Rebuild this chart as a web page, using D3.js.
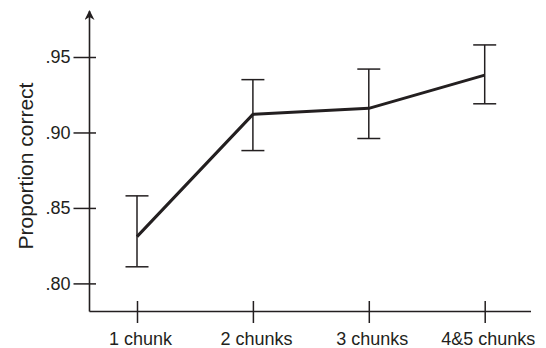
<!DOCTYPE html>
<html>
<head>
<meta charset="utf-8">
<script src="https://cdn.jsdelivr.net/npm/d3@7"></script>
<style>
  body { margin: 0; background: #fff; }
  svg text { font-family: "Liberation Sans", Arial, Helvetica, sans-serif; fill: #231f20; }
</style>
</head>
<body>
<div class="chartContainer"></div>
<script>
// chart values
var categories = ["1 chunk", "2 chunks", "3 chunks", "4&5 chunks"];
var means = [0.831, 0.912, 0.916, 0.938];
var upper = [0.858, 0.935, 0.942, 0.958];
var lower = [0.811, 0.888, 0.896, 0.919];
var yTicks = [0.80, 0.85, 0.90, 0.95];

window.onload = drawChart();

function drawChart(){
    var width = 546,
        height = 348;
    var ink = "#231f20";

    var svg = d3.select("div.chartContainer")
        .append("svg")
        .attr("width", width)
        .attr("height", height);

    //axis origin
    var x0 = 89.5, yBase = 311.5;

    var x = d3.scalePoint()
        .domain(categories)
        .range([137, 484.7]);

    var y = d3.scaleLinear()
        .domain([0.80, 0.95])
        .range([283.4, 57]);

    //arrow head
    svg.append("defs").append("marker")
        .attr("id", "arrow")
        .attr("viewBox", "0 0 10 10")
        .attr("refX", 9)
        .attr("refY", 5)
        .attr("markerWidth", 10)
        .attr("markerHeight", 10)
        .attr("markerUnits", "userSpaceOnUse")
        .attr("orient", "auto")
        .append("path")
        .attr("d", "M0,0 L10,5 L0,10 L3,5 Z")
        .attr("fill", ink);

    //y axis
    var yAxis = svg.append("g")
        .attr("transform", "translate(" + x0 + ",0)")
        .call(d3.axisLeft(y)
            .tickValues(yTicks)
            .tickSize(16)
            .tickPadding(3)
            .tickFormat(function(d){ return d3.format(".2f")(d).replace(/^0/, ""); }));
    yAxis.select(".domain").remove();
    yAxis.selectAll(".tick line")
        .attr("x1", 6.5)
        .attr("stroke", ink)
        .attr("stroke-width", 1.5);
    yAxis.selectAll(".tick text")
        .attr("font-size", 18)
        .style("font-family", "'Liberation Sans', Arial, sans-serif")
        .attr("fill", ink);

    svg.append("line")
        .attr("x1", x0).attr("x2", x0)
        .attr("y1", yBase).attr("y2", 11)
        .attr("stroke", ink)
        .attr("stroke-width", 1.6)
        .attr("marker-end", "url(#arrow)");

    //x axis
    var xAxis = svg.append("g")
        .attr("transform", "translate(0," + yBase + ")")
        .call(d3.axisBottom(x).tickSize(11.5));
    xAxis.select(".domain").remove();
    xAxis.selectAll(".tick line")
        .attr("y1", -10.5)
        .attr("stroke", ink)
        .attr("stroke-width", 1.5);
    xAxis.selectAll(".tick text")
        .attr("font-size", 18)
        .attr("y", 33.5)
        .attr("dy", 0)
        .attr("dx", 3)
        .style("font-family", "'Liberation Sans', Arial, sans-serif")
        .attr("fill", ink);

    svg.append("line")
        .attr("x1", x0).attr("x2", 531)
        .attr("y1", yBase).attr("y2", yBase)
        .attr("stroke", ink)
        .attr("stroke-width", 1.6);

    //y axis title
    svg.append("text")
        .attr("transform", "translate(32.5," + 166 + ") rotate(-90)")
        .attr("text-anchor", "middle")
        .attr("font-size", 21)
        .text("Proportion correct");

    //error bars
    var bars = svg.selectAll(".errbar")
        .data(categories)
        .enter()
        .append("g")
        .attr("class", "errbar")
        .attr("stroke", ink)
        .attr("stroke-width", 1.5);

    bars.append("line")
        .attr("x1", function(d){ return x(d); })
        .attr("x2", function(d){ return x(d); })
        .attr("y1", function(d, i){ return y(lower[i]); })
        .attr("y2", function(d, i){ return y(upper[i]); });
    bars.append("line")
        .attr("x1", function(d){ return x(d) - 11.5; })
        .attr("x2", function(d){ return x(d) + 11.5; })
        .attr("y1", function(d, i){ return y(upper[i]); })
        .attr("y2", function(d, i){ return y(upper[i]); });
    bars.append("line")
        .attr("x1", function(d){ return x(d) - 11.5; })
        .attr("x2", function(d){ return x(d) + 11.5; })
        .attr("y1", function(d, i){ return y(lower[i]); })
        .attr("y2", function(d, i){ return y(lower[i]); });

    //mean line
    var line = d3.line()
        .x(function(d, i){ return x(categories[i]); })
        .y(function(d){ return y(d); });

    svg.append("path")
        .datum(means)
        .attr("d", line)
        .attr("fill", "none")
        .attr("stroke", ink)
        .attr("stroke-width", 3)
        .attr("stroke-linejoin", "round");
};
</script>
</body>
</html>
